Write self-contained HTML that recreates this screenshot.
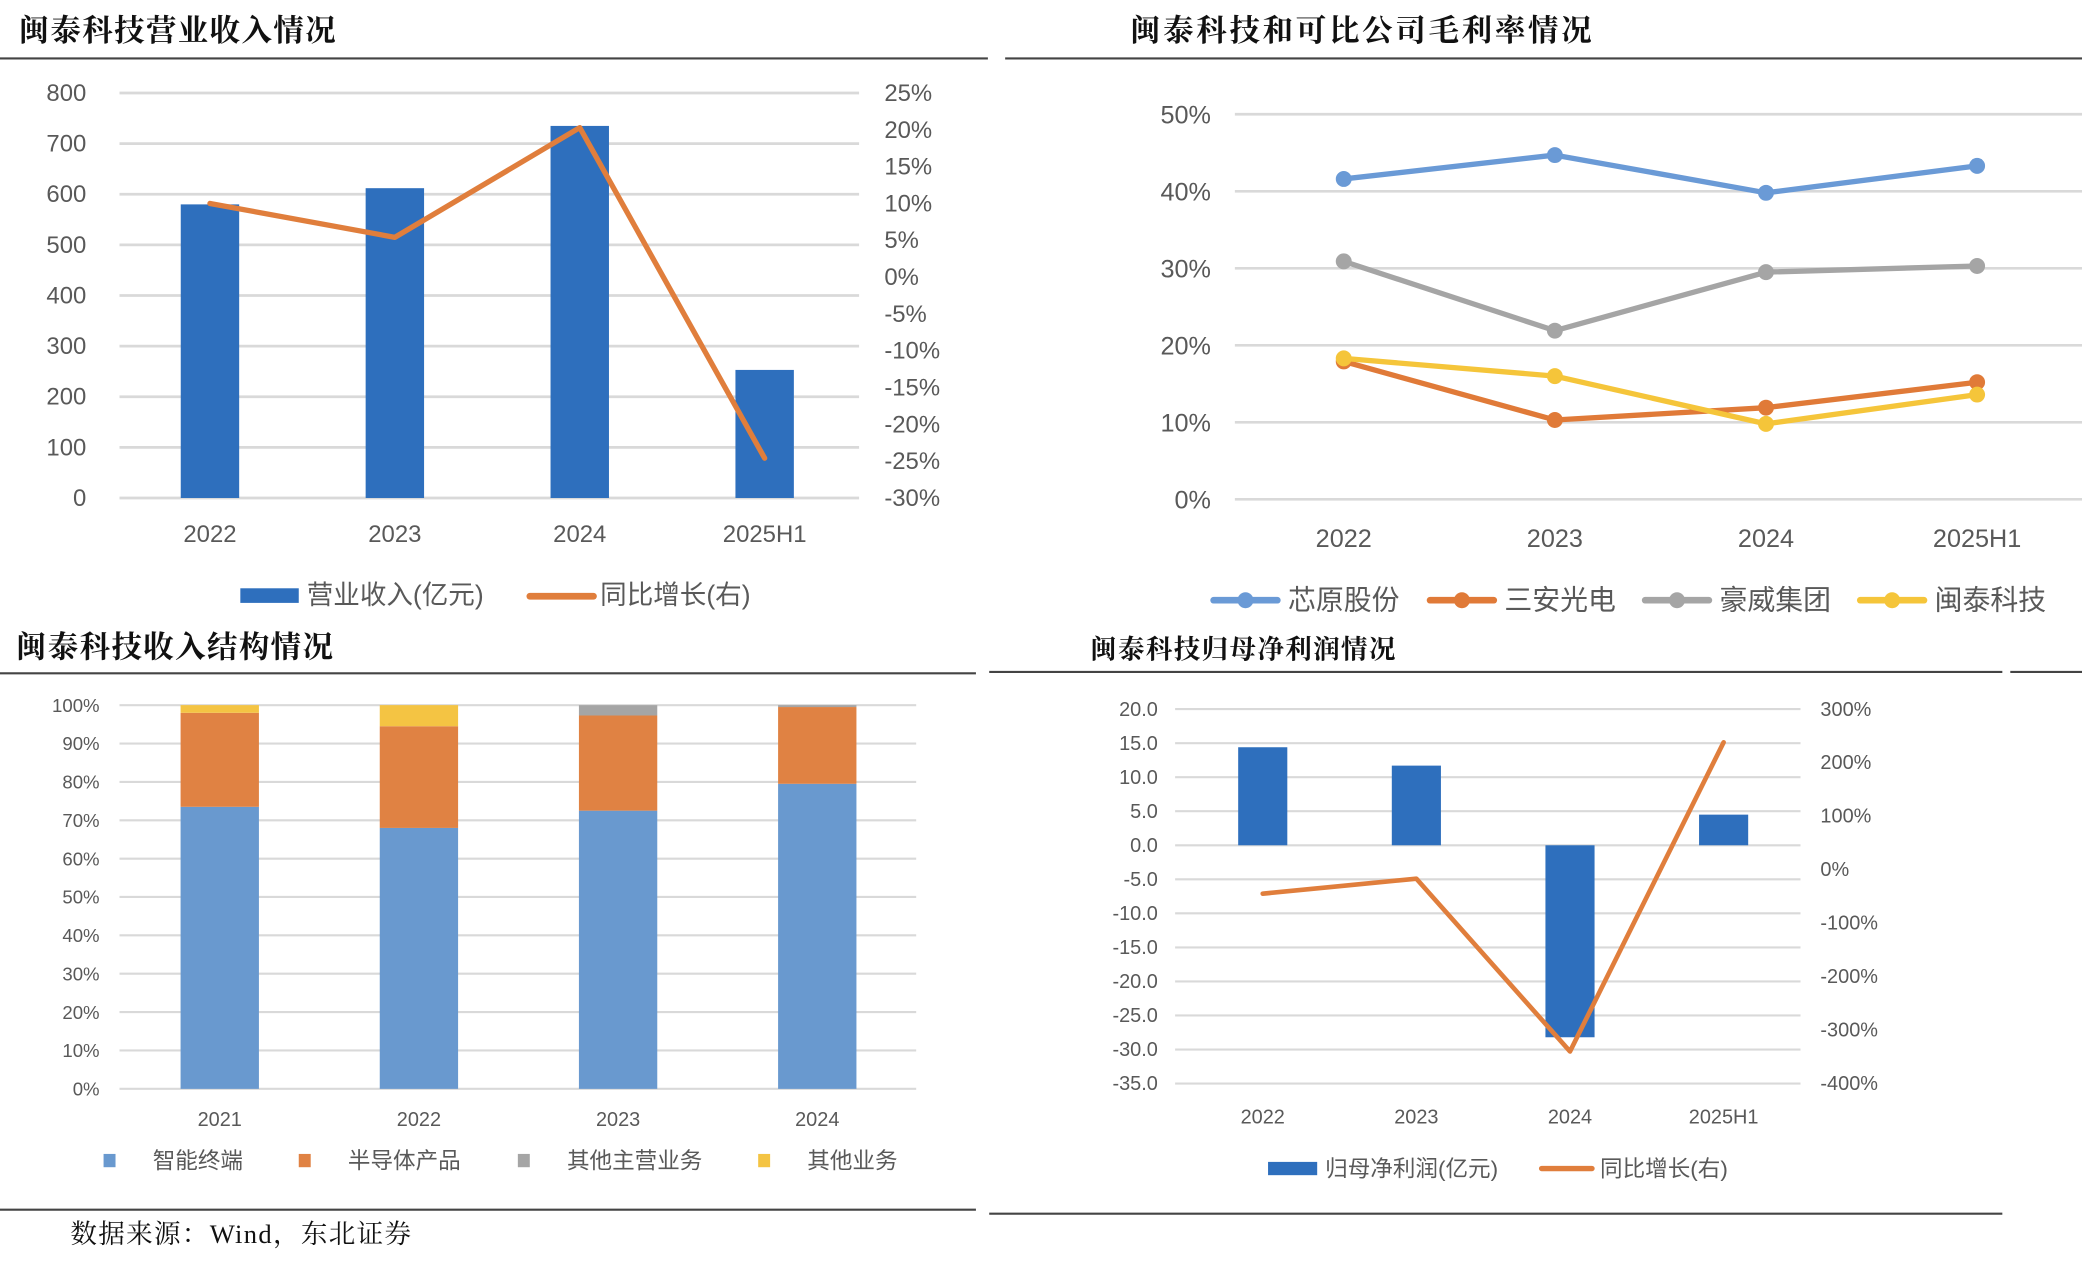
<!DOCTYPE html>
<html><head><meta charset="utf-8">
<style>
html,body{margin:0;padding:0;background:#fff;}
svg{display:block;}
text{font-family:"Liberation Sans","Noto Sans CJK SC",sans-serif;fill:#595959;}
.title{font-family:"Liberation Serif","Noto Serif CJK SC",serif;font-weight:bold;fill:#111;}
</style></head>
<body>
<svg id="root" width="2082" height="1265" viewBox="0 0 1568 952.6" xmlns="http://www.w3.org/2000/svg"></svg>
<script>
// ---- Chart 1 data ----
const c1Categories = ['2022','2023','2024','2025H1'];
const c1Revenue = [580, 612, 735, 253];
const c1Growth = [10.0, 5.4, 20.3, -24.6];
const c1LeftTicks = [0,100,200,300,400,500,600,700,800];
const c1RightTicks = [-30,-25,-20,-15,-10,-5,0,5,10,15,20,25];
// ---- Chart 2 data ----
const c2Categories = ['2022','2023','2024','2025H1'];
const c2Names = ['芯原股份','三安光电','豪威集团','闽泰科技'];
const c2Xinyuan = [41.6, 44.7, 39.8, 43.3];
const c2Sanan = [17.9, 10.3, 11.9, 15.2];
const c2Haowei = [30.9, 21.9, 29.5, 30.3];
const c2Wingtech = [18.3, 16.0, 9.8, 13.6];
const c2Ticks = [0,10,20,30,40,50];
// ---- Chart 3 data ----
const c3Categories = ['2021','2022','2023','2024'];
const c3Names = ['智能终端','半导体产品','其他主营业务','其他业务'];
const c3Terminal = [73.5, 68.0, 72.5, 79.5];
const c3Semi = [24.5, 26.5, 24.8, 20.0];
const c3OtherMain = [0, 0, 2.7, 0.5];
const c3Other = [2.0, 5.5, 0, 0];
const c3Ticks = [0,10,20,30,40,50,60,70,80,90,100];
// ---- Chart 4 data ----
const c4Categories = ['2022','2023','2024','2025H1'];
const c4Profit = [14.4, 11.7, -28.2, 4.5];
const c4Growth = [-45, -17, -340, 238];
const c4LeftTicks = [-35,-30,-25,-20,-15,-10,-5,0,5,10,15,20];
const c4RightTicks = [-400,-300,-200,-100,0,100,200,300];

const NS='http://www.w3.org/2000/svg';
const root=document.getElementById('root');
function mk(tag,attrs,parent,txt){const e=document.createElementNS(NS,tag);for(const k in attrs)e.setAttribute(k,attrs[k]);if(txt!==undefined)e.textContent=txt;(parent||root).appendChild(e);return e;}
function lin(d0,d1,r0,r1){return v=>r0+(v-d0)*(r1-r0)/(d1-d0);}

// ---------- frame lines & titles ----------
let e;
e=mk('text',{x:14,y:31,'font-size':23,'letter-spacing':1,class:'title'},root,'闽泰科技营业收入情况');


e=mk('text',{x:851,y:31,'font-size':23,'letter-spacing':2,class:'title'},root,'闽泰科技和可比公司毛利率情况');


e=mk('text',{x:12,y:495,'font-size':23,'letter-spacing':1,class:'title'},root,'闽泰科技收入结构情况');


e=mk('text',{x:821,y:496,'font-size':20,'letter-spacing':1,class:'title'},root,'闽泰科技归母净利润情况');


[[0,744,44],[757,1568,44],[0,735,507],[745,1508,506],[1514,1568,506],[0,735,911],[745,1508,914]].forEach(s=>{
  const l=mk('line',{x1:s[0],x2:s[1],y1:s[2],y2:s[2],stroke:'#444','stroke-width':1.6});
  
  
});
e=mk('text',{x:53,y:936,'font-size':20,'letter-spacing':1,class:'title',style:'font-weight:normal'},root,'数据来源：Wind，东北证券');



// ---------- Chart 1 ----------
(function(){
  const g=mk('g',{});
  
  
  const x0=90,x1=647,yl=lin(0,800,375,70),yr=lin(-30,25,375,70);
  const band=(x1-x0)/c1Categories.length, cx=i=>x0+band*(i+0.5)-1.5;
  c1LeftTicks.forEach(t=>{
    const l=mk('line',{x1:x0,x2:x1,y1:yl(t),y2:yl(t),stroke:'#d9d9d9','stroke-width':2},g);
    
    const tx=mk('text',{x:65,y:yl(t)+6,'text-anchor':'end','font-size':18},g,t);
    
  });
  c1RightTicks.forEach(t=>{
    const tx=mk('text',{x:666,y:yr(t)+6,'font-size':18},g,t+'%');
    
  });
  c1Categories.forEach((c,i)=>{
    const r=mk('rect',{x:cx(i)-22,y:yl(c1Revenue[i]),width:44,height:yl(0)-yl(c1Revenue[i]),fill:'#2e6fbd'},g);
    
    const tx=mk('text',{x:cx(i),y:408,'text-anchor':'middle','font-size':18},g,c);
    
  });
  const p=mk('polyline',{points:c1Growth.map((v,i)=>cx(i)+','+yr(v)).join(' '),fill:'none',stroke:'#e07e3c','stroke-width':4,'stroke-linejoin':'round','stroke-linecap':'round'},g);
  
  const lg=mk('g',{},g);
  mk('rect',{x:181,y:443,width:44,height:11,fill:'#2e6fbd'},lg);
  mk('text',{x:231,y:455,'font-size':20},lg,'营业收入(亿元)');
  mk('line',{x1:399,x2:447,y1:449,y2:449,stroke:'#e07e3c','stroke-width':5,'stroke-linecap':'round'},lg);
  mk('text',{x:452,y:455,'font-size':20},lg,'同比增长(右)');
})();

// ---------- Chart 2 ----------
(function(){
  const g=mk('g',{});
  
  
  const x0=930,x1=1568,y=lin(0,50,376,86);
  const xs=i=>1012+i*159;
  c2Ticks.forEach(t=>{
    const l=mk('line',{x1:x0,x2:x1,y1:y(t),y2:y(t),stroke:'#d9d9d9','stroke-width':2},g);
    
    const tx=mk('text',{x:912,y:y(t)+7,'text-anchor':'end','font-size':19},g,t+'%');
    
  });
  c2Categories.forEach((c,i)=>{
    const tx=mk('text',{x:xs(i),y:412,'text-anchor':'middle','font-size':19},g,c);
    
  });
  const series=[c2Xinyuan,c2Sanan,c2Haowei,c2Wingtech];
  const colors=['#6a9ad6','#e07a38','#a5a5a5','#f5c53a'];
  const lx=[914,1077,1239,1401];
  series.forEach((s,k)=>{
    const p=mk('polyline',{points:s.map((v,i)=>xs(i)+','+y(v)).join(' '),fill:'none',stroke:colors[k],'stroke-width':4,'stroke-linejoin':'round'},g);
    
    s.forEach((v,i)=>{
      const c=mk('circle',{cx:xs(i),cy:y(v),r:6,fill:colors[k]},g);
      
    });
    const lg=mk('g',{},g);
    mk('line',{x1:lx[k],x2:lx[k]+48,y1:452,y2:452,stroke:colors[k],'stroke-width':5,'stroke-linecap':'round'},lg);
    mk('circle',{cx:lx[k]+24,cy:452,r:6,fill:colors[k]},lg);
    mk('text',{x:lx[k]+56,y:459,'font-size':21},lg,c2Names[k]);
  });
})();

// ---------- Chart 3 ----------
(function(){
  const g=mk('g',{});
  
  
  const x0=90,x1=690,y=lin(0,100,820,531);
  const cx=i=>165.5+i*150;
  c3Ticks.forEach(t=>{
    const l=mk('line',{x1:x0,x2:x1,y1:y(t),y2:y(t),stroke:'#d9d9d9','stroke-width':1.6},g);
    
    const tx=mk('text',{x:75,y:y(t)+5,'text-anchor':'end','font-size':14},g,t+'%');
    
  });
  const series=[c3Terminal,c3Semi,c3OtherMain,c3Other];
  const colors=['#6999cf','#e08243','#a5a5a5','#f4c443'];
  c3Categories.forEach((c,i)=>{
    let acc=0;
    series.forEach((s,k)=>{
      if(s[i]>0){
        const r=mk('rect',{x:cx(i)-29.5,y:y(acc+s[i]),width:59,height:y(acc)-y(acc+s[i]),fill:colors[k]},g);
        
      }
      acc+=s[i];
    });
    const tx=mk('text',{x:cx(i),y:848,'text-anchor':'middle','font-size':15},g,c);
    
  });
  const mx=[78,225,390,571],tx2=[115,262,427,608];
  c3Names.forEach((n,k)=>{
    const lg=mk('g',{},g);
    mk('rect',{x:mx[k],y:869,width:9,height:10,fill:colors[k]},lg);
    mk('text',{x:tx2[k],y:880,'font-size':17},lg,n);
  });
})();

// ---------- Chart 4 ----------
(function(){
  const g=mk('g',{});
  
  
  const x0=885,x1=1356,yl=lin(-35,20,816,534),yr=lin(-400,300,816,534);
  const cx=i=>951+i*115.7;
  c4LeftTicks.forEach(t=>{
    const l=mk('line',{x1:x0,x2:x1,y1:yl(t),y2:yl(t),stroke:'#d9d9d9','stroke-width':1.6},g);
    
    const tx=mk('text',{x:872,y:yl(t)+5,'text-anchor':'end','font-size':15},g,t.toFixed(1));
    
  });
  c4RightTicks.forEach(t=>{
    const tx=mk('text',{x:1371,y:yr(t)+5,'font-size':15},g,t+'%');
    
  });
  c4Categories.forEach((c,i)=>{
    const v=c4Profit[i],top=Math.min(yl(v),yl(0)),h=Math.abs(yl(v)-yl(0));
    const r=mk('rect',{x:cx(i)-18.5,y:top,width:37,height:h,fill:'#2e6fbd'},g);
    
    const tx=mk('text',{x:cx(i),y:846,'text-anchor':'middle','font-size':15},g,c);
    
  });
  const p=mk('polyline',{points:c4Growth.map((v,i)=>cx(i)+','+yr(v)).join(' '),fill:'none',stroke:'#e07e3c','stroke-width':3.5,'stroke-linejoin':'round','stroke-linecap':'round'},g);
  
  const lg=mk('g',{},g);
  mk('rect',{x:955,y:875,width:37,height:10,fill:'#2e6fbd'},lg);
  mk('text',{x:998,y:886,'font-size':17},lg,'归母净利润(亿元)');
  mk('line',{x1:1161,x2:1199,y1:880,y2:880,stroke:'#e07e3c','stroke-width':4,'stroke-linecap':'round'},lg);
  mk('text',{x:1205,y:886,'font-size':17},lg,'同比增长(右)');
})();
</script>
</body></html>
